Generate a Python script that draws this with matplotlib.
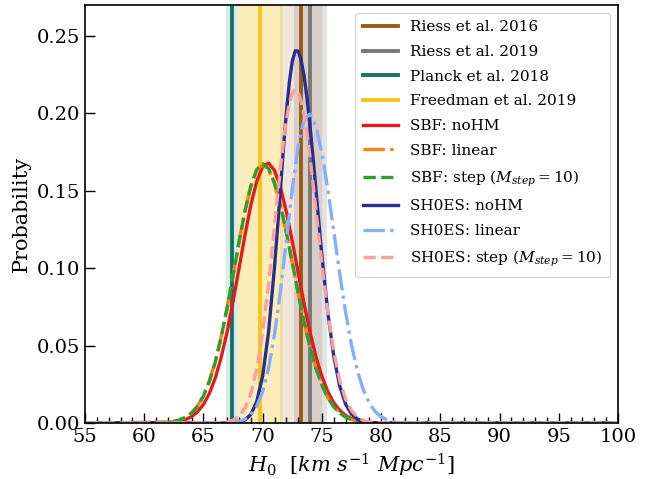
import numpy as np
import matplotlib
matplotlib.use("Agg")
import matplotlib.pyplot as plt
from matplotlib.ticker import MultipleLocator, FormatStrFormatter

plt.rcParams["font.family"] = "DejaVu Serif"
plt.rcParams["mathtext.fontset"] = "dejavuserif"

# H0 grid (km/s/Mpc) for the SBF curves and SH0ES linear
h0 = [55, 62, 62.5, 63, 63.5, 64, 64.5, 65, 65.5, 66, 66.5, 67, 67.5, 68, 68.5,
      69, 69.5, 70, 70.5, 71, 71.5, 72, 72.5, 73, 73.5, 74, 74.5, 75, 75.5,
      76, 76.5, 77, 77.5, 78, 78.5, 79, 79.5, 80, 80.5, 81, 81.5, 82, 100]
# finer grid around the narrow SH0ES peaks
h0_fine = [55, 66, 66.5, 67, 67.5, 68, 68.5, 69, 69.5, 70, 70.5, 71, 71.25,
           71.5, 71.75, 72, 72.25, 72.5, 72.75, 73, 73.25, 73.5, 73.75, 74,
           74.25, 74.5, 74.75, 75, 75.5, 76, 76.5, 77, 77.5, 78, 78.5, 79,
           79.5, 80, 100]

# probability curves
sbf_nohm = [0, 0.0003, 0.0006, 0.0012, 0.0023, 0.0041, 0.0072, 0.0120, 0.0191,
            0.0291, 0.0424, 0.0590, 0.0785, 0.0997, 0.1212, 0.1407, 0.1561,
            0.1656, 0.1679, 0.1631, 0.1523, 0.1364, 0.1174, 0.0970, 0.0769,
            0.0586, 0.0428, 0.0301, 0.0203, 0.0131, 0.0082, 0.0049, 0.0028,
            0.0015, 0.0008, 0.0004, 0.0002, 0.0001, 0, 0, 0, 0, 0]
sbf_linear = [0, 0.0005, 0.0011, 0.0021, 0.0038, 0.0066, 0.0110, 0.0177, 0.0272,
              0.0398, 0.0558, 0.0748, 0.0957, 0.1170, 0.1368, 0.1528, 0.1632,
              0.1668, 0.1637, 0.1546, 0.1405, 0.1228, 0.1034, 0.0838, 0.0652,
              0.0489, 0.0353, 0.0245, 0.0164, 0.0105, 0.0065, 0.0039, 0.0022,
              0.0012, 0.0006, 0.0003, 0.0002, 0.0001, 0, 0, 0, 0, 0]
sbf_step = [0, 0.0005, 0.0010, 0.0020, 0.0037, 0.0064, 0.0108, 0.0174, 0.0268,
            0.0393, 0.0553, 0.0742, 0.0951, 0.1166, 0.1366, 0.1530, 0.1637,
            0.1675, 0.1643, 0.1551, 0.1409, 0.1231, 0.1036, 0.0839, 0.0653,
            0.0489, 0.0353, 0.0245, 0.0164, 0.0105, 0.0065, 0.0039, 0.0022,
            0.0012, 0.0006, 0.0003, 0.0002, 0.0001, 0, 0, 0, 0, 0]
shoes_linear = [0, 0, 0, 0, 0, 0, 0, 0, 0, 0, 0, 0.0001, 0.0004, 0.0010,
                0.0024, 0.0053, 0.0108, 0.0203, 0.0354, 0.0571, 0.0853, 0.1179,
                0.1510, 0.1789, 0.1963, 0.1995, 0.1915, 0.1745, 0.1510, 0.1241,
                0.0968, 0.0718, 0.0505, 0.0338, 0.0214, 0.0129, 0.0074, 0.0040,
                0.0021, 0.0010, 0.0005, 0.0002, 0]
# these two on h0_fine
shoes_nohm = [0, 0, 0, 0, 0.0002, 0.0006, 0.0019, 0.0055, 0.0138, 0.0304,
              0.0589, 0.1007, 0.1254, 0.1514, 0.1770, 0.2004, 0.2199, 0.2336,
              0.2404, 0.2401, 0.2344, 0.2240, 0.2095, 0.1917, 0.1717, 0.1505,
              0.1291, 0.1083, 0.0715, 0.0433, 0.0241, 0.0122, 0.0057, 0.0025,
              0.0010, 0.0003, 0.0001, 0, 0]
shoes_step = [0, 0.0001, 0.0003, 0.0007, 0.0018, 0.0043, 0.0095, 0.0189, 0.0347,
              0.0583, 0.0898, 0.1269, 0.1460, 0.1645, 0.1813, 0.1955, 0.2064,
              0.2132, 0.2155, 0.2135, 0.2078, 0.1985, 0.1862, 0.1715, 0.1551,
              0.1378, 0.1201, 0.1029, 0.0714, 0.0461, 0.0276, 0.0154, 0.0080,
              0.0038, 0.0017, 0.0007, 0.0003, 0.0001, 0]

# literature measurements: label, value, error
ref_labels = ["Riess et al. 2016", "Riess et al. 2019", "Planck et al. 2018",
              "Freedman et al. 2019"]
ref_values = [73.24, 74.03, 67.4, 69.8]
ref_errors = [1.74, 1.42, 0.5, 1.9]
ref_colors = ["#9a5b16", "#777777", "#137466", "#f5c518"]
band_alpha = [0.15, 0.2, 0.15, 0.3]

fig = plt.figure(figsize=(6.56, 4.79), dpi=100)
ax = fig.add_axes([0.1296, 0.1169, 0.8124, 0.8727])

for lab, v, e, c, a in zip(ref_labels, ref_values, ref_errors, ref_colors, band_alpha):
    ax.axvspan(v - e, v + e, color=c, alpha=a, lw=0)
    ax.axvline(v, color=c, lw=2.8, label=lab)

lw = 2.4
ax.plot(h0, sbf_nohm, color="#e41a1c", lw=lw, label="SBF: noHM")
ax.plot(h0, sbf_linear, color="#ff7f0e", lw=lw, ls="-.", label="SBF: linear")
ax.plot(h0, sbf_step, color="#2ca02c", lw=lw, ls="--",
        label=r"SBF: step ($M_{step} = 10$)")
ax.plot(h0_fine, shoes_nohm, color="#2a2c8e", lw=lw, label="SH0ES: noHM")
ax.plot(h0, shoes_linear, color="#86aef7", lw=lw, ls="-.", label="SH0ES: linear")
ax.plot(h0_fine, shoes_step, color="#f9a0a0", lw=lw, ls="--",
        label=r"SH0ES: step ($M_{step} = 10$)")

ax.set_xlim(55, 100)
ax.set_ylim(0, 0.27)
ax.xaxis.set_major_locator(MultipleLocator(5))
ax.xaxis.set_minor_locator(MultipleLocator(1))
ax.yaxis.set_major_locator(MultipleLocator(0.05))
ax.yaxis.set_major_formatter(FormatStrFormatter("%.2f"))
ax.tick_params(axis="both", which="major", direction="in", length=7,
               width=1, labelsize=14)
ax.tick_params(axis="x", which="minor", direction="in", length=4, width=1)
for s in ax.spines.values():
    s.set_linewidth(1.2)

ax.set_xlabel(r"$H_0\ \ [km\ s^{-1}\ Mpc^{-1}]$", fontsize=15)
ax.set_ylabel("Probability", fontsize=15)

ax.legend(loc="upper right", fontsize=11, handlelength=2.3, labelspacing=0.7,
          borderpad=0.5)

fig.savefig("out.png", dpi=100)
